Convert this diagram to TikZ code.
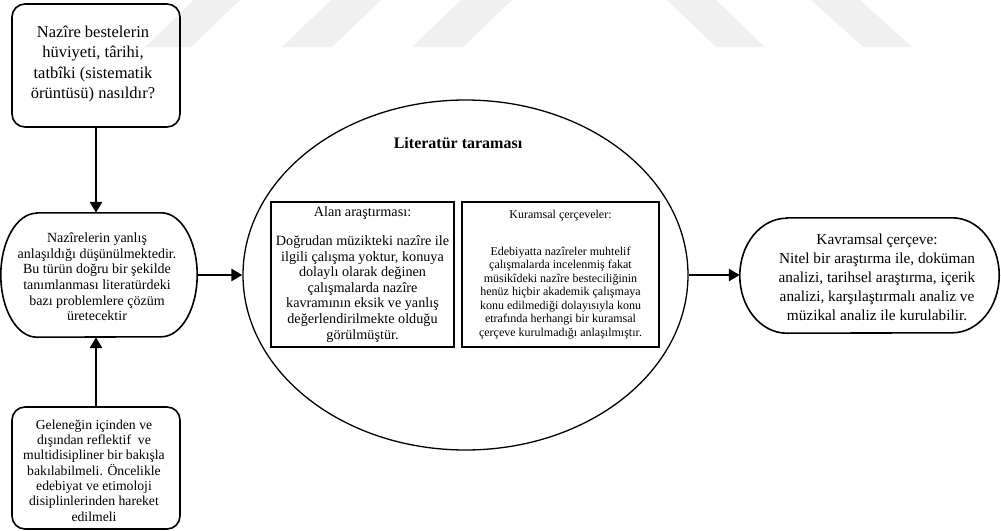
\documentclass[tikz,border=0pt]{standalone}
\usepackage{fontspec}
\setmainfont{Liberation Serif}
\usetikzlibrary{arrows.meta,shapes.geometric,calc}
\tikzset{
  rbox/.style={draw,line width=1.6pt,rounded corners=13pt,align=center,inner sep=0pt},
  plain/.style={align=center,inner sep=0pt},
  inbox/.style={draw,line width=2pt,align=center,inner sep=0pt},
  conn/.style={line width=2.8pt,-{Triangle[length=11pt,width=12pt]}},
  wmark/.style={fill=black!6,draw=none},
}
\begin{document}
\begin{tikzpicture}[x=1pt,y=-1pt]
\useasboundingbox (0,0) rectangle (1001,530);
% faint watermark bands
\fill[wmark] (194,0) -- (240,0) -- (191,47) -- (145,47) -- cycle;
\fill[wmark] (331,0) -- (381,0) -- (332,47) -- (282,47) -- cycle;
\fill[wmark] (461,0) -- (512,0) -- (463,47) -- (412,47) -- cycle;
\fill[wmark] (667,0) -- (716,0) -- (765,47) -- (716,47) -- cycle;
\fill[wmark] (811,0) -- (860,0) -- (912,47) -- (863,47) -- cycle;
% top question box
\node[rbox,minimum width=168pt,minimum height=123pt] (q) at (96,65.5) {};
\node[plain,font=\fontsize{16.5}{20.3}\selectfont] (qt) at (93,64)
 {Nazîre bestelerin\\hüviyeti, târihi,\\tatbîki (sistematik\\örüntüsü) nasıldır?};
% middle stadium
\node[plain,minimum width=196pt,minimum height=124pt] (mid) at (99,275) {};
\node[plain,font=\fontsize{14}{15.67}\selectfont] (midt) at (97,277)
 {Nazîrelerin yanlış\\anlaşıldığı düşünülmektedir.\\Bu türün doğru bir şekilde\\tanımlanması literatürdeki\\bazı problemlere çözüm\\üretecektir};
\draw[line width=1.6pt] ([xshift=36pt]mid.north west) -- ([xshift=-36pt]mid.north east)
  arc[start angle=90,end angle=-90,x radius=36pt,y radius=62pt]
  -- ([xshift=36pt]mid.south west)
  arc[start angle=270,end angle=90,x radius=36pt,y radius=62pt] -- cycle;
% bottom box
\node[rbox,minimum width=168pt,minimum height=122pt] (b) at (96,468) {};
\node[plain,font=\fontsize{13.7}{15.28}\selectfont] (bt) at (94,470.5)
 {Geleneğin içinden ve\\dışından reflektif\ \ ve\\multidisipliner bir bakışla\\bakılabilmeli. Öncelikle\\edebiyat ve etimoloji\\disiplinlerinden hareket\\edilmeli};
% ellipse
\node[draw,ellipse,line width=1.3pt,minimum width=445pt,minimum height=350pt,inner sep=0pt] (ell) at (465.5,275) {};
\node[plain,font=\bfseries\fontsize{16}{18}\selectfont] (title) at (458,143) {Literatür taraması};
\node[inbox,minimum width=183pt,minimum height=145pt,font=\fontsize{14.2}{15.6}\selectfont] (alan) at (362.5,274.5)
 {Alan araştırması:\\[13.4pt]Doğrudan müzikteki nazîre ile\\ilgili çalışma yoktur, konuya\\dolaylı olarak değinen\\çalışmalarda nazîre\\kavramının eksik ve yanlış\\değerlendirilmekte olduğu\\görülmüştür.};
\node[inbox,minimum width=197pt,minimum height=145pt,font=\fontsize{12}{13.5}\selectfont] (kur) at (560.5,274.5)
 {Kuramsal çerçeveler:\\[23.5pt]Edebiyatta nazîreler muhtelif\\çalışmalarda incelenmiş fakat\\müsikîdeki nazîre besteciliğinin\\henüz hiçbir akademik çalışmaya\\konu edilmediği dolayısıyla konu\\etrafında herhangi bir kuramsal\\çerçeve kurulmadığı anlaşılmıştır.};
% right stadium
\node[plain,minimum width=259pt,minimum height=115pt] (kav) at (869.5,275.5) {};
\node[plain,font=\fontsize{15.3}{19}\selectfont] (kavt) at (877,277)
 {Kavramsal çerçeve:\\Nitel bir araştırma ile, doküman\\analizi, tarihsel araştırma, içerik\\analizi, karşılaştırmalı analiz ve\\müzikal analiz ile kurulabilir.};
\draw[line width=1.6pt] ([xshift=47pt]kav.north west) -- ([xshift=-47pt]kav.north east)
  arc[start angle=90,end angle=-90,x radius=47pt,y radius=57.5pt]
  -- ([xshift=47pt]kav.south west)
  arc[start angle=270,end angle=90,x radius=47pt,y radius=57.5pt] -- cycle;
% connectors
\draw[conn] (q.south) -- (q.south |- mid.north);
\draw[conn] (b.north) -- (b.north |- mid.south);
\draw[conn] (mid.east) -- (ell.west);
\draw[conn] (ell.east) -- (kav.west |- ell.east);
\end{tikzpicture}
\end{document}
